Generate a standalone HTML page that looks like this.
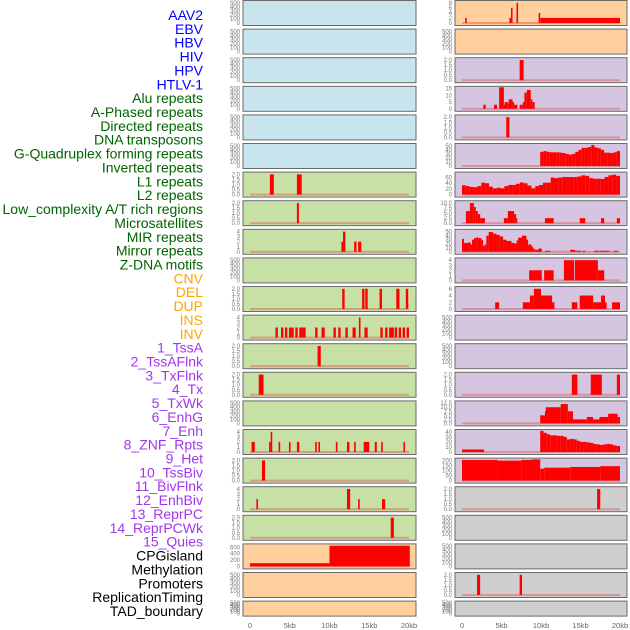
<!DOCTYPE html>
<html><head><meta charset="utf-8"><style>
html,body{margin:0;padding:0;background:#fff;width:630px;height:630px;overflow:hidden}
svg{display:block;font-family:"Liberation Sans",sans-serif}
</style></head><body>
<svg id="chart" width="630" height="630"></svg>
<script>
const labels=["AAV2","EBV","HBV","HIV","HPV","HTLV-1","Alu repeats","A-Phased repeats","Directed repeats","DNA transposons","G-Quadruplex forming repeats","Inverted repeats","L1 repeats","L2 repeats","Low_complexity A/T rich regions","Microsatellites","MIR repeats","Mirror repeats","Z-DNA motifs","CNV","DEL","DUP","INS","INV","1_TssA","2_TssAFlnk","3_TxFlnk","4_Tx","5_TxWk","6_EnhG","7_Enh","8_ZNF_Rpts","9_Het","10_TssBiv","11_BivFlnk","12_EnhBiv","13_ReprPC","14_ReprPCWk","15_Quies","CPGisland","Methylation","Promoters","ReplicationTiming","TAD_boundary"];
const labelColors=["#0000ff","#006400","#ffa500","#a335ee","#000000"];
const labelGroups=[0,0,0,0,0,0,1,1,1,1,1,1,1,1,1,1,1,1,1,2,2,2,2,2,3,3,3,3,3,3,3,3,3,3,3,3,3,3,3,4,4,4,4,4];
const xTicks=[0,5,10,15,20];
const xTickLabels=["0","5kb","10kb","15kb","20kb"];
const T500=[0,100,200,300,400,500], T2=[0,0.5,1,1.5,2], T4=[0,1,2,3,4];
const T2lab=["0.0","0.5","1.0","1.5","2.0"];
// col1 panel segments [startKb,endKb,value]
const c1r6=[[2.5,3.0,2],[5.9,6.5,2]];
const c1r7=[[5.9,6.15,2]];
const c1r8=[[11.5,11.7,2],[11.7,12.0,4],[13.1,13.4,2],[13.6,14.0,2]];
const c1r10=[[11.6,11.9,2],[14.1,14.4,2],[14.5,14.8,2],[16.3,16.6,2],[18.4,18.8,2],[19.6,19.9,2]];
const c1r11=[[3.2,3.5,2],[3.9,4.2,2],[4.4,4.7,2],[4.9,5.2,2],[5.2,5.5,2],[5.7,6.0,2],[6.2,6.6,2],[6.6,7.0,2],[8.2,8.5,2],[9.0,9.4,2],[10.5,10.8,2],[11.1,11.4,2],[12.0,12.3,2],[12.9,13.3,2],[13.7,13.9,4],[14.4,14.8,2],[16.4,16.7,2],[17.0,17.3,2],[17.5,17.8,2],[17.8,18.1,2],[18.2,18.5,2],[18.7,19.0,2],[19.2,19.5,2],[19.7,20.0,2]];
const c1r12=[[8.5,8.9,2]];
const c1r13=[[1.1,1.7,2]];
const c1r15=[[0.2,0.6,2],[2.4,2.6,2],[2.6,2.8,4],[3.6,3.8,2],[4.9,5.1,2],[5.9,6.2,2],[8.2,8.4,2],[8.6,8.8,2],[10.8,11.0,2],[12.2,12.5,2],[13.1,13.3,2],[14.3,15.0,2],[15.7,15.95,2],[16.5,16.7,2],[19.3,19.5,2]];
const c1r16=[[1.5,1.9,2]];
const c1r17=[[0.8,1.0,2],[12.2,12.6,4],[13.6,13.8,2],[16.6,17.0,2]];
const c1r18=[[17.7,18.1,2]];
const c1r19=[[0,10,100],[10,20.1,650]];
// col2
const c2r0=[[0.4,0.6,2],[6.0,6.2,2],[6.2,6.4,6],[6.9,7.1,8],[9.7,9.9,4],[9.9,20.0,2]];
const c2r2=[[7.3,7.8,2]];
const c2r3=[[2.7,3.0,3],[4.05,4.45,3],[4.7,5.3,16],[5.3,5.4,3],[5.4,5.8,5],[5.8,5.9,4],[5.9,6.4,7],[6.4,6.6,5],[6.6,7.0,3],[7.3,7.7,3],[7.7,7.9,5],[7.9,8.2,12],[8.2,8.7,14],[8.7,8.9,7],[8.9,9.2,5]];
const c2r4=[[5.6,6.0,2]];
const c2r5start=9.9, c2r5vals=[35,37,35,34,34,34,33,32,30,28,30,35,40,45,45,47,52,46,44,40,33,33,32,34,37];
const c2r6vals=[33,30,27,26,30,42,40,28,22,24,22,30,34,34,38,43,40,32,22,30,34,42,42,60,58,60,62,62,62,62,64,68,66,58,56,56,55,62,68,70,66];
const c2r7=[[0.5,1.0,6],[1.0,1.5,10],[1.5,1.75,8],[1.75,2.0,6],[2.0,2.3,4.5],[2.3,2.9,2.5],[5.3,5.8,2.5],[5.8,6.6,6],[6.6,6.85,4.5],[6.85,7.0,2.5],[10.5,11.6,2.5],[14.9,15.6,2.5],[17.6,18.0,2.5],[19.6,20.0,2.5]];
const c2r8=[[0,0.25,32],[0.25,0.76,22],[0.76,1.1,23],[1.1,1.27,18],[1.27,1.52,30],[1.52,1.82,34],[1.82,2.03,36],[2.03,2.45,34],[2.45,2.66,30],[2.66,2.87,15],[2.87,3.08,18],[3.08,3.38,40],[3.38,3.93,49],[3.93,4.36,45],[4.36,4.78,42],[4.78,5.2,38],[5.2,5.62,30],[5.62,6.26,27],[6.26,6.68,22],[6.68,6.9,20],[6.9,7.1,28],[7.1,7.6,35],[7.6,8.16,40],[8.16,8.37,30],[8.37,8.8,18],[8.8,9.0,13],[9.0,9.2,8],[9.2,9.65,5],[9.65,10.1,8],[10.5,11.2,2.5],[13.7,14.3,5],[14.3,15.1,2.5],[15.3,15.6,2.5],[16.7,17.4,2.5],[17.5,18.7,2.5],[19.2,19.7,2.5]];
const c2r9=[[8.5,10.1,2],[10.4,11.6,2],[12.9,14.2,4],[14.3,17.2,4],[17.2,18.0,2]];
const c2r10=[[4.2,4.7,2],[7.7,8.6,2],[8.6,9.1,4],[9.1,10.0,6],[10.0,11.4,4],[11.4,11.7,2],[13.9,14.6,2],[14.9,16.6,4],[16.6,17.6,2],[17.6,18.1,4],[18.1,18.3,2],[19.0,20.0,2]];
const c2r13=[[13.9,14.6,2],[16.3,17.7,2],[19.6,20.0,2]];
const c2r14=[[9.9,10.5,5],[10.5,10.6,7.5],[10.6,12.5,10],[12.5,13.4,12],[13.4,14.05,7.5],[14.05,15.8,2.5],[15.8,16.6,4],[16.6,17.4,2.5],[17.4,18.5,4],[18.5,19.7,6],[19.7,20.0,4]];
const c2r15start=9.9, c2r15vals=[42,38,35,33,33,32,32,30,25,26,25,22,20,20,19,18,16,15,14,15,16,15,13,12];
const c2r15lead=[[0,2.8,5]];
const c2r16=[[0,4.5,205],[4.5,7.5,198],[7.5,8.8,205],[8.8,9.9,210],[9.9,10.4,118],[10.4,13.7,128],[13.7,17.5,135],[17.5,20,143]];
const c2r17=[[17.1,17.5,2]];
const c2r20=[[1.9,2.3,2],[7.3,7.6,2]];

function fromVals(start,end,vals){const s=(end-start)/vals.length;return vals.map((v,i)=>[start+i*s,start+(i+1)*s,v]);}
const B="#c8e4ec",G="#c7e0a6",O="#ffcf9e",P="#d5c5e1",Y="#cfcfcf";
const E={t:T500,l:null,d:[]};
function P2(d){return {t:T2,l:T2lab,d:d};}
const col1=[
 {...E,bg:B},{...E,bg:B},{...E,bg:B},{...E,bg:B},{...E,bg:B},{...E,bg:B},
 {...P2(c1r6),bg:G},{...P2(c1r7),bg:G},{t:T4,d:c1r8,bg:G},{...E,bg:G},{...P2(c1r10),bg:G},{t:T4,d:c1r11,bg:G},
 {...P2(c1r12),bg:G},{...P2(c1r13),bg:G},{...E,bg:G},{t:T4,d:c1r15,bg:G},{...P2(c1r16),bg:G},{t:T4,d:c1r17,bg:G},{...P2(c1r18),bg:G},
 {t:[0,200,400,600],d:c1r19,bg:O,ymax:660},{...E,bg:O},{...E,bg:O}];
const col2=[
 {t:[0,2,4,6,8],d:c2r0,bg:O},{...E,bg:O},
 {...P2(c2r2),bg:P},{t:[0,5,10,15],d:c2r3,bg:P},{...P2(c2r4),bg:P},
 {t:[0,10,20,30,40,50],d:fromVals(c2r5start,20,c2r5vals),bg:P},
 {t:[0,20,40,60],d:fromVals(0,20,c2r6vals),bg:P,ymax:74},
 {t:[0,2.5,5,7.5,10],l:["0.0","2.5","5.0","7.5","10.0"],d:c2r7,bg:P},
 {t:[0,10,20,30,40,50],d:c2r8,bg:P},
 {t:T4,d:c2r9,bg:P},{t:[0,2,4,6],d:c2r10,bg:P},{...E,bg:P},{...E,bg:P},
 {...P2(c2r13),bg:P},
 {t:[0,2.5,5,7.5,10,12.5],l:["0.0","2.5","5.0","7.5","10.0","12.5"],d:c2r14,bg:P},
 {t:[0,10,20,30,40],d:c2r15lead.concat(fromVals(c2r15start,20,c2r15vals)),bg:P},
 {t:[0,50,100,150,200],d:c2r16,bg:P},
 {...P2(c2r17),bg:Y},{...E,bg:Y},{...E,bg:Y},{...P2(c2r20),bg:Y},{...E,bg:Y}];

const svg=document.getElementById('chart');
const NS="http://www.w3.org/2000/svg";
function mk(tag,attrs,parent){const e=document.createElementNS(NS,tag);for(const k in attrs)e.setAttribute(k,attrs[k]);(parent||svg).appendChild(e);return e;}

labels.forEach((s,i)=>{
 const t=mk('text',{x:203,y:15+i*13.86+5,'text-anchor':'end','font-size':'14',fill:labelColors[labelGroups[i]]});
 t.textContent=s;
 
 
});

function drawCol(panels,left,right,c){
 const x0=left+7,x1=right-7;
 const xs=kb=>x0+(kb/20)*(x1-x0);
 panels.forEach((p,i)=>{
  const top=0.5+i*28.6, h=(i===21)?15:25;
  const g=mk('g',{});
  
  
  mk('rect',{x:left,y:top,width:right-left,height:h,fill:p.bg,stroke:'#6a6a6a','stroke-width':1},g);
  const yb=top+h-2.5, yt=top+1.5;
  const ymax=p.ymax||p.t[p.t.length-1]*1.04;
  const ys=v=>yb-(v/ymax)*(yb-yt);
  p.t.forEach((tv,k)=>{
   const tt=mk('text',{x:left-3,y:ys(tv)+2,'text-anchor':'end','font-size':'6',fill:'#777'},g);
   tt.textContent=p.l?p.l[k]:String(tv);
   
   
  });
  if(p.d.length||p.t!==T500){
   const bl=mk('rect',{x:xs(0),y:yb-1,width:xs(20)-xs(0),height:2,fill:'#e05050',opacity:0.45},g);
   
   
  }
  p.d.forEach(s=>{
   const xa=xs(s[0]),xb=xs(s[1]);
   const r=mk('rect',{x:xa,y:ys(s[2]),width:Math.max(1.2,xb-xa),height:yb-ys(s[2]),fill:'#ff0000'},g);
   
   
  });
 });
 xTicks.forEach((kb,k)=>{
  const t=mk('text',{x:xs(kb),y:628,'text-anchor':'middle','font-size':'7.5',fill:'#666'});
  t.textContent=xTickLabels[k];
  
  
 });
}
drawCol(col1,243,416,1);
drawCol(col2,455,627,2);
</script>
</body></html>
